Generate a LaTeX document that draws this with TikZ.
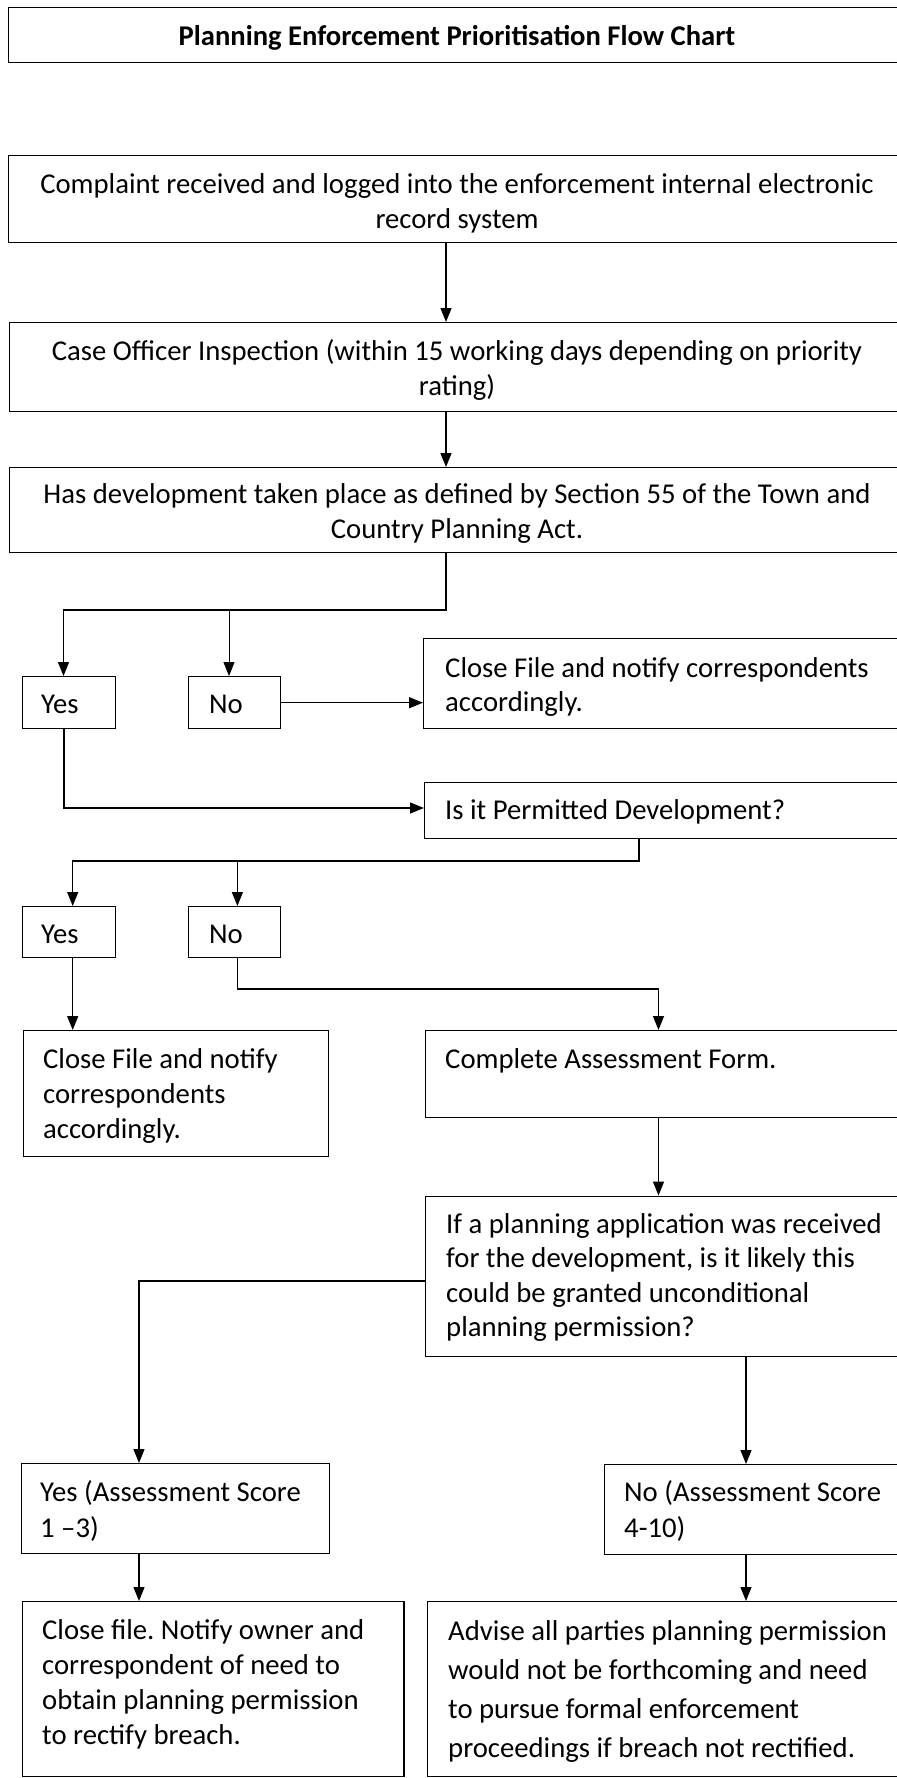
\documentclass[tikz,border=0pt]{standalone}
\usepackage{fontspec}
\setmainfont{Carlito}
\usetikzlibrary{arrows.meta}
\frenchspacing
\newcommand{\mytl}[1]{\begin{tabular}[t]{@{}l@{}}#1\end{tabular}}
\newcommand{\mytc}[1]{\begin{tabular}[t]{@{}c@{}}#1\end{tabular}}
\begin{document}
\begin{tikzpicture}[x=1pt,y=-1pt,
  box/.style={draw, line width=1.4pt, inner sep=0pt, anchor=north west},
  txt/.style={inner sep=0pt, anchor=base west, font=\fontsize{28.7}{35}\selectfont\frenchspacing},
  ctxt/.style={inner sep=0pt, anchor=base, font=\fontsize{28.7}{35}\selectfont\frenchspacing},
  conn/.style={line width=1.4pt, -{Triangle[length=14pt,width=11pt]}},
  thinconn/.style={line width=0.9pt, -{Triangle[length=14pt,width=11pt]}}]
\useasboundingbox (0,0) rectangle (897,1778);
% boxes
\node[box, minimum width=902pt, minimum height=55pt] (title) at (8,7) {};
\node[box, minimum width=902pt, minimum height=87pt] (complaint) at (8,155) {};
\node[box, minimum width=901pt, minimum height=89pt] (case) at (9,322) {};
\node[box, minimum width=901pt, minimum height=85pt] (has) at (9,467) {};
\node[box, minimum width=92.5pt, minimum height=52pt] (yes1) at (22,676) {};
\node[box, minimum width=92pt, minimum height=52pt] (no1) at (188,676) {};
\node[box, minimum width=487pt, minimum height=90pt] (close1) at (423,638) {};
\node[box, minimum width=486pt, minimum height=56pt] (perm) at (424,782) {};
\node[box, minimum width=92.5pt, minimum height=51pt] (yes2) at (22,906) {};
\node[box, minimum width=92pt, minimum height=51pt] (no2) at (188,906) {};
\node[box, minimum width=305pt, minimum height=126pt] (close2) at (23,1030) {};
\node[box, minimum width=486pt, minimum height=87pt] (complete) at (424.5,1030) {};
\node[box, minimum width=486pt, minimum height=160pt] (ifbox) at (424.5,1195.5) {};
\node[box, minimum width=308.4pt, minimum height=90pt] (yes3) at (20.6,1463) {};
\node[box, minimum width=307pt, minimum height=90pt] (no3) at (603.5,1464) {};
\node[box, minimum width=381.6pt, minimum height=175pt] (close3) at (21.7,1601) {};
\node[box, minimum width=483pt, minimum height=175pt] (advise) at (427,1601) {};
% texts
\node[ctxt, font=\fontsize{28.6}{34}\selectfont\bfseries] (ttitle) at (457,45) {Planning Enforcement Prioritisation Flow Chart};
\node[ctxt] (tcomplaint) at (457,193) {\mytc{Complaint received and logged into the enforcement internal electronic\\record system}};
\node[ctxt] (tcase) at (457,360) {\mytc{Case Officer Inspection (within 15 working days depending on priority\\rating)}};
\node[ctxt] (thas) at (457,503) {\mytc{Has development taken place as defined by Section 55 of the Town and\\Country Planning Act.}};
\node[txt] (tyes1) at (41,713) {Yes};
\node[txt] (tno1) at (209,713) {No};
\node[txt, font=\fontsize{28.7}{34}\selectfont] (tclose1) at (445,677) {\mytl{Close File and notify correspondents\\accordingly.}};
\node[txt] (tperm) at (445,819) {Is it Permitted Development?};
\node[txt] (tyes2) at (41,943) {Yes};
\node[txt] (tno2) at (209,943) {No};
\node[txt] (tclose2) at (43,1068) {\mytl{Close File and notify\\correspondents\\accordingly.}};
\node[txt] (tcomplete) at (445,1068) {Complete Assessment Form.};
\node[txt, font=\fontsize{28.7}{34.5}\selectfont] (tif) at (446,1233) {\mytl{If a planning application was received\\for the development, is it likely this\\could be granted unconditional\\planning permission?}};
\node[txt, font=\fontsize{28.7}{36}\selectfont] (tyes3) at (40,1501) {\mytl{Yes (Assessment Score\\1 –3)}};
\node[txt, font=\fontsize{28.7}{36}\selectfont] (tno3) at (624,1501) {\mytl{No (Assessment Score\\4-10)}};
\node[txt] (tclose3) at (42,1639) {\mytl{Close file. Notify owner and\\correspondent of need to\\obtain planning permission\\to rectify breach.}};
\node[txt, font=\fontsize{28.7}{39.3}\selectfont] (tadvise) at (448,1640) {\mytl{Advise all parties planning permission\\would not be forthcoming and need\\to pursue formal enforcement\\proceedings if breach not rectified.}};
% column coordinates
\coordinate (cA) at (446,0);
\coordinate (cY1) at (63.5,0);
\coordinate (cN1) at (229,0);
\coordinate (cY2) at (72.7,0);
\coordinate (cN2) at (237.4,0);
\coordinate (cC) at (658.5,0);
\coordinate (cY3) at (139,0);
\coordinate (cN3) at (746,0);
\coordinate (j1) at (446,610);
\coordinate (j2) at (64,808);
\coordinate (j3) at (639,861);
\coordinate (j4) at (237.4,989);
\coordinate (j5) at (139,1281);
% connectors
\draw[conn] (cA |- complaint.south) -- (cA |- case.north);
\draw[conn] (cA |- case.south) -- (cA |- has.north);
\draw[conn] (cA |- has.south) -- (j1) -| (cY1 |- yes1.north);
\draw[thinconn] (cN1 |- j1) -- (cN1 |- no1.north);
\draw[conn] (no1.east) -- (no1.east -| close1.west);
\draw[conn] (j2 |- yes1.south) -- (j2) -- (j2 -| perm.west);
\draw[conn] (j3 |- perm.south) -- (j3) -| (cY2 |- yes2.north);
\draw[conn] (cN2 |- j3) -- (cN2 |- no2.north);
\draw[conn] (cY2 |- yes2.south) -- (cY2 |- close2.north);
\draw[conn] (j4 |- no2.south) -- (j4) -| (cC |- complete.north);
\draw[conn] (cC |- complete.south) -- (cC |- ifbox.north);
\draw[conn] (j5 -| ifbox.west) -- (j5) -- (j5 |- yes3.north);
\draw[conn] (cN3 |- ifbox.south) -- (cN3 |- no3.north);
\draw[conn] (cY3 |- yes3.south) -- (cY3 |- close3.north);
\draw[conn] (cN3 |- no3.south) -- (cN3 |- advise.north);
\end{tikzpicture}
\end{document}
